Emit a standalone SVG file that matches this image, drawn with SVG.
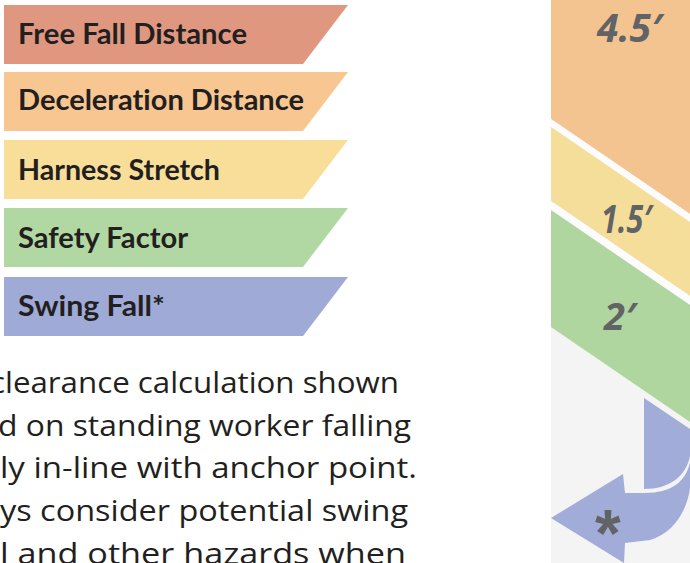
<svg xmlns="http://www.w3.org/2000/svg" width="690" height="563" viewBox="0 0 690 563">
<style>
.lbl{font-family:Lato,"Liberation Sans",sans-serif;font-weight:700;font-size:29px;fill:#231f20;font-variant-ligatures:none}
.para{font-family:"Open Sans","Liberation Sans",sans-serif;font-weight:400;font-size:30px;fill:#231f20;font-variant-ligatures:none}
.dim{font-family:"Open Sans","Liberation Sans",sans-serif;font-weight:700;font-style:italic;fill:#616366}
.stripe{fill:#fcfcfc}
.blue{fill:#a2acd8}
</style>
<rect x="0" y="0" width="690" height="563" fill="#ffffff"/>
<g id="legend-free-fall">
<polygon points="4,5 348,5 303,64 4,64" fill="#e0977f"/>
<text class="lbl" x="18" y="44" textLength="229" lengthAdjust="spacingAndGlyphs">Free Fall Distance</text>
</g>
<g id="legend-deceleration">
<polygon points="4,72 348,72 303,131 4,131" fill="#f8c690"/>
<text class="lbl" x="18" y="110" textLength="286" lengthAdjust="spacingAndGlyphs">Deceleration Distance</text>
</g>
<g id="legend-harness">
<polygon points="4,140 348,140 303,199 4,199" fill="#f8de98"/>
<text class="lbl" x="18" y="180" textLength="202" lengthAdjust="spacingAndGlyphs">Harness Stretch</text>
</g>
<g id="legend-safety">
<polygon points="4,208 348,208 303,267 4,267" fill="#b1d8a2"/>
<text class="lbl" x="18" y="248" textLength="170" lengthAdjust="spacingAndGlyphs">Safety Factor</text>
</g>
<g id="legend-swing">
<polygon points="4,277 348,277 303,336 4,336" fill="#9fabd6"/>
<text class="lbl" x="18" y="316" textLength="147" lengthAdjust="spacingAndGlyphs">Swing Fall*</text>
</g>
<g id="note">
<text class="para" x="-10" y="393" textLength="409" lengthAdjust="spacingAndGlyphs">clearance calculation shown</text>
<text class="para" x="-2" y="436" textLength="413" lengthAdjust="spacingAndGlyphs">d on standing worker falling</text>
<text class="para" x="0" y="478" textLength="417" lengthAdjust="spacingAndGlyphs">ly in-line with anchor point.</text>
<text class="para" x="0" y="521" textLength="408" lengthAdjust="spacingAndGlyphs">ys consider potential swing</text>
<text class="para" x="0" y="564" textLength="406" lengthAdjust="spacingAndGlyphs">l and other hazards when</text>
</g>
<g id="clearance-column">
<rect x="551" y="0" width="139" height="563" fill="#f4f4f4"/>
<polygon points="551,0 690,0 690,214 551,119" fill="#f4c490"/>
<polygon class="stripe" points="551,119 690,214 690,222 551,127"/>
<polygon points="551,127 690,222 690,296 551,201" fill="#f5de9a"/>
<polygon class="stripe" points="551,201 690,296 690,305 551,210"/>
<polygon points="551,210 690,305 690,422 551,327" fill="#b0d6a0"/>
<text class="dim" x="597" y="42" font-size="40" textLength="65" lengthAdjust="spacingAndGlyphs">4.5′</text>
<text class="dim" x="601" y="233" font-size="39" textLength="51" lengthAdjust="spacingAndGlyphs">1.5′</text>
<text class="dim" x="604" y="330" font-size="38" font-weight="600">2′</text>
</g>
<g id="swing-arrow">
<path class="blue" d="M644,398 L690,429 L690,456 C686,476 670,489 644,489 Z"/>
<path class="blue" d="M690,462 C686,482 671,493 645,493 L625,493 L623,474 L551,518 L624,563 L625,543 L650,540 C672,534 687,512 690,488 Z"/>
<text x="595" y="556" font-family="'Liberation Sans',sans-serif" font-weight="700" font-size="66" fill="#616366">*</text>
</g>
</svg>
